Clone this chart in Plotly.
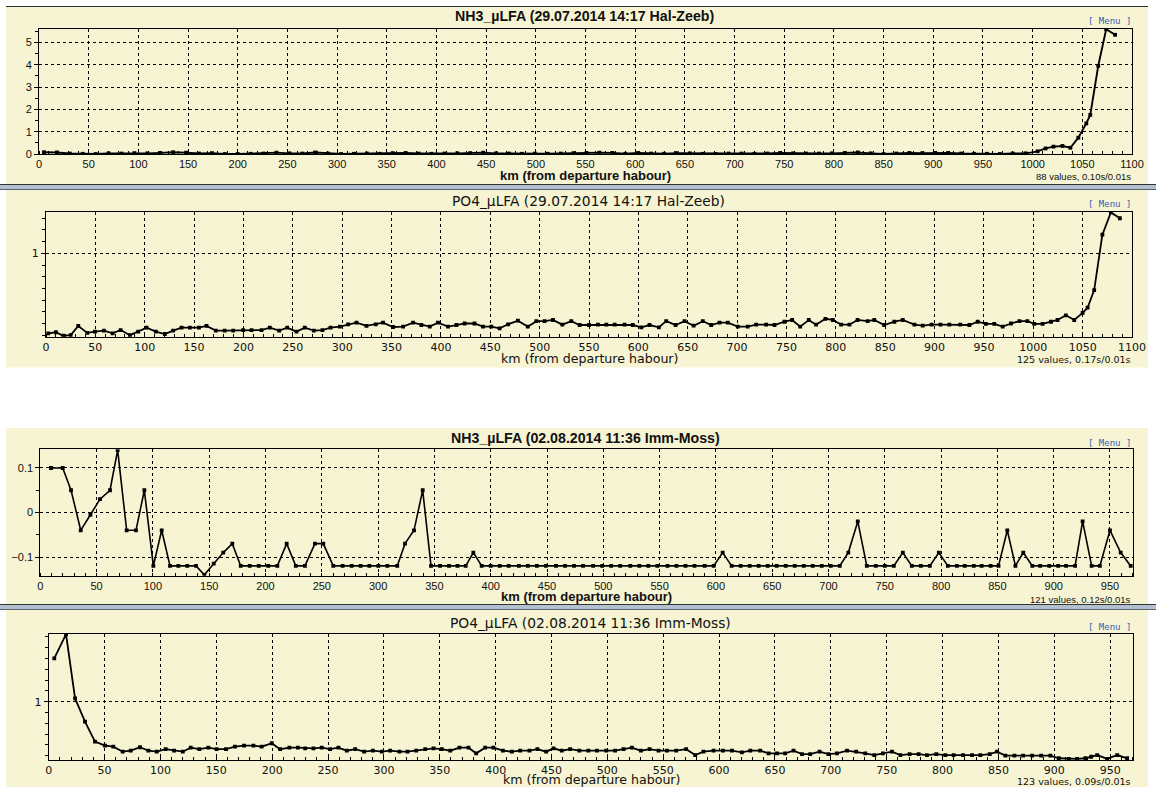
import plotly.graph_objects as go

W, H = 1156, 787

# ---------------- data ----------------
# NH3 µLFA, 29.07.2014 Hal-Zeeb
nh3_hz_km = [5, 18, 31, 44, 57, 70, 83, 96, 109, 122,
             135, 148, 161, 174, 187, 200, 213, 226, 239, 252,
             265, 278, 291, 304, 317, 330, 343, 356, 369, 382,
             395, 408, 421, 434, 447, 460, 473, 486, 499, 512,
             525, 538, 551, 564, 577, 590, 603, 616, 629, 642,
             655, 668, 681, 694, 707, 720, 733, 746, 759, 772,
             785, 798, 811, 824, 837, 850, 863, 876, 889, 902,
             915, 928, 941, 954, 967, 980, 993,
             1005, 1013, 1021, 1030,
             1038, 1046, 1054, 1058, 1066, 1074, 1083]
nh3_hz_val = [0.08, 0.07, 0.02, 0.01, 0.0, 0.03, 0.02, 0.04, 0.03, 0.05,
              0.08, 0.06, 0.02, 0.04, 0.0, 0.0, 0.01, 0.02, 0.06, 0.03,
              0.02, 0.07, 0.02, 0.0, 0.01, 0.02, 0.01, 0.04, 0.05, 0.02,
              0.01, 0.02, 0.03, 0.04, 0.06, 0.03, 0.02, 0.01, 0.02, 0.01,
              0.02, 0.04, 0.05, 0.06, 0.05, 0.01, 0.05, 0.02, 0.01, 0.04,
              0.03, 0.01, 0.0, 0.02, 0.02, 0.01, 0.02, 0.05, 0.03, 0.02,
              0.02, 0.03, 0.05, 0.07, 0.03, 0.0, 0.02, 0.05, 0.04, 0.05,
              0.05, 0.02, 0.01, 0.01, 0.0, 0.02, 0.03,
              0.12, 0.25, 0.33, 0.36,
              0.28, 0.73, 1.37, 1.75, 3.95, 5.59, 5.34]

# PO4 µLFA, 29.07.2014 Hal-Zeeb
po4_hz_km = [2.3, 10, 17.5, 25, 32.7, 41.8, 49.6, 58.7, 67.5, 75.6,
             85, 93.4, 101.9, 111.3, 120.4, 128.8, 137.3, 145.7, 154.9, 162.6,
             172, 181, 189.6, 199.7, 208.2, 218.3, 226.7, 236.2, 244.3, 253.7,
             262.1, 271.3, 280, 288.2, 297.6, 306, 314.5, 324.6, 334, 341.4,
             351.5, 361.7, 371.8, 380.2, 388.7, 397, 407.2, 415.7, 424, 434,
             442.6, 451, 459.5, 468, 478, 488, 496.7, 505, 513.5, 523,
             532, 540.5, 550, 559, 567.5, 576, 586, 594.4, 603, 611.3,
             620.8, 628.2, 637.7, 646.8, 656, 665.3, 673.8, 682.2, 690.6, 700.7,
             710.8, 719.3, 729.4, 737.9, 748, 755.8, 763.9, 772.6, 780, 789.5,
             797, 805.4, 813.8, 822, 832.3, 839, 849, 859.3, 867.8, 879.6,
             888, 897, 906, 915, 926, 935.3, 943.7, 952, 960.5, 969,
             977.4, 986, 994, 1001, 1009.4, 1018, 1024.6, 1033, 1041.5, 1050,
             1055, 1061.7, 1070, 1078.6, 1087.7]
po4_hz_val = [0.316, 0.325, 0.295, 0.30, 0.379, 0.32, 0.33, 0.339, 0.316, 0.344,
              0.30, 0.33, 0.364, 0.33, 0.31, 0.339, 0.364, 0.364, 0.364, 0.379,
              0.339, 0.339, 0.339, 0.344, 0.344, 0.344, 0.364, 0.339, 0.364, 0.33,
              0.364, 0.339, 0.344, 0.364, 0.373, 0.393, 0.407, 0.379, 0.393, 0.407,
              0.37, 0.373, 0.407, 0.387, 0.373, 0.407, 0.373, 0.387, 0.40, 0.40,
              0.373, 0.373, 0.359, 0.393, 0.424, 0.373, 0.42, 0.42, 0.43, 0.39,
              0.42, 0.387, 0.387, 0.39, 0.39, 0.39, 0.39, 0.387, 0.367, 0.387,
              0.367, 0.42, 0.387, 0.42, 0.381, 0.42, 0.387, 0.407, 0.407, 0.373,
              0.373, 0.39, 0.39, 0.387, 0.415, 0.43, 0.373, 0.43, 0.39, 0.44,
              0.43, 0.39, 0.39, 0.43, 0.42, 0.43, 0.387, 0.415, 0.43, 0.39,
              0.381, 0.39, 0.39, 0.39, 0.39, 0.387, 0.415, 0.396, 0.396, 0.373,
              0.40, 0.42, 0.42, 0.396, 0.396, 0.415, 0.43, 0.47, 0.43, 0.49,
              0.535, 0.686, 1.16, 1.35, 1.30]

# NH3 µLFA, 02.08.2014 Imm-Moss
nh3_im_km = [9.5, 19.9, 27.3, 35.9, 44.5, 53, 61.9, 68.7, 76.7, 85,
             92.4, 100.4, 107.8, 115.2, 122.6, 130.5, 138.3, 145.7, 154, 162.5,
             170.5, 178, 186, 194, 202.5, 210.5, 218.8, 226.9, 235, 243.9,
             251.3, 260.2, 268.5, 276.5, 284.5, 292.2, 300.2, 308.2, 317, 323.9,
             331.9, 339.6, 347, 355, 363, 370.5, 377.8, 384.6, 392, 400,
             408, 416, 425, 433, 441, 449, 458, 466, 474, 482,
             491, 499, 507, 515, 524, 532, 540, 548, 557, 565,
             573, 581, 590, 598, 606, 614, 622, 630, 638, 646,
             654, 662, 670, 678, 686, 694, 702, 710, 717.6, 726,
             734, 742, 750, 758, 766, 774, 782, 790, 798, 806,
             814, 821, 829, 836, 844, 851, 858.8, 866, 873, 881,
             888, 896, 904, 911, 919, 925.7, 933.7, 941, 950, 959.5,
             968.4]
nh3_im_val = [0.10, 0.10, 0.05, -0.04, -0.005, 0.03, 0.05, 0.14, -0.04, -0.04,
              0.05, -0.12, -0.04, -0.12, -0.12, -0.12, -0.12, -0.14, -0.115, -0.09,
              -0.07, -0.12, -0.12, -0.12, -0.12, -0.12, -0.07, -0.12, -0.12, -0.07,
              -0.07, -0.12, -0.12, -0.12, -0.12, -0.12, -0.12, -0.12, -0.12, -0.07,
              -0.04, 0.05, -0.12, -0.12, -0.12, -0.12, -0.12, -0.09, -0.12, -0.12,
              -0.12, -0.12, -0.12, -0.12, -0.12, -0.12, -0.12, -0.12, -0.12, -0.12,
              -0.12, -0.12, -0.12, -0.12, -0.12, -0.12, -0.12, -0.12, -0.12, -0.12,
              -0.12, -0.12, -0.12, -0.12, -0.09, -0.12, -0.12, -0.12, -0.12, -0.12,
              -0.12, -0.12, -0.12, -0.12, -0.12, -0.12, -0.12, -0.12, -0.09, -0.02,
              -0.12, -0.12, -0.12, -0.12, -0.09, -0.12, -0.12, -0.12, -0.09, -0.12,
              -0.12, -0.12, -0.12, -0.12, -0.12, -0.12, -0.04, -0.12, -0.09, -0.12,
              -0.12, -0.12, -0.12, -0.12, -0.12, -0.02, -0.12, -0.12, -0.04, -0.09,
              -0.12]

# PO4 µLFA, 02.08.2014 Imm-Moss
po4_im_km = [5.0, 15.5, 23.6, 32.5, 41.4, 50.4, 57.8, 66.2, 73.4, 81.7,
             89.2, 96.7, 104.7, 112.2, 120.0, 127.1, 134.8, 142.9, 150.3, 158.7,
             166.7, 174.8, 183.2, 190.6, 199.6, 207.1, 215.4, 223.0, 229.5, 236.9,
             244.4, 251.9, 259.3, 266.8, 274.3, 282.3, 290.1, 298.2, 305.6, 313.9,
             321.1, 328.9, 337.0, 344.4, 351.8, 359.4, 367.6, 375.7, 382.6, 390.6,
             398.0, 406.5, 414.5, 421.9, 430.3, 437.4, 445.2, 451.8, 459.2, 466.7,
             474.9, 483.0, 490.6, 499.0, 506.9, 514.5, 521.9, 530.0, 537.8, 545.8,
             553.3, 561.6, 570.5, 578.6, 586.0, 595.0, 603.4, 611.5, 620.4, 627.9,
             636.8, 644.3, 651.8, 659.1, 666.6, 674.2, 681.5, 689.9, 697.9, 705.5,
             714.5, 722.7, 730.8, 738.9, 746.6, 754.7, 762.2, 770.5, 778.6, 786.0,
             794.4, 802.5, 809.9, 818.3, 826.4, 833.8, 842.2, 848.8, 856.2, 864.3,
             872.1, 880.1, 888.2, 896.5, 904.0, 913.0, 920.4, 927.9, 933.0, 938.4,
             947.3, 956.3, 965.2]
po4_im_val = [1.40, 1.624, 1.03, 0.815, 0.63, 0.593, 0.583, 0.537, 0.546, 0.578,
              0.546, 0.537, 0.56, 0.546, 0.537, 0.574, 0.56, 0.574, 0.56, 0.56,
              0.583, 0.593, 0.593, 0.583, 0.615, 0.56, 0.574, 0.574, 0.568, 0.568,
              0.574, 0.56, 0.574, 0.546, 0.56, 0.537, 0.546, 0.537, 0.546, 0.537,
              0.537, 0.546, 0.56, 0.568, 0.56, 0.546, 0.574, 0.574, 0.522, 0.574,
              0.574, 0.546, 0.537, 0.546, 0.546, 0.56, 0.537, 0.568, 0.546, 0.56,
              0.546, 0.546, 0.546, 0.546, 0.546, 0.56, 0.574, 0.546, 0.56, 0.546,
              0.546, 0.546, 0.56, 0.506, 0.537, 0.546, 0.546, 0.546, 0.53, 0.546,
              0.546, 0.522, 0.522, 0.522, 0.546, 0.515, 0.515, 0.537, 0.515, 0.522,
              0.546, 0.537, 0.522, 0.506, 0.522, 0.537, 0.506, 0.515, 0.515, 0.506,
              0.515, 0.506, 0.506, 0.506, 0.506, 0.506, 0.515, 0.537, 0.50, 0.50,
              0.50, 0.50, 0.50, 0.50, 0.476, 0.47, 0.47, 0.476, 0.49, 0.506,
              0.47, 0.506, 0.476]

x_ticks_hz = list(range(0, 1101, 50))
x_ticks_im = list(range(0, 951, 50))

# ---------------- styling ----------------
ARIAL = "Liberation Sans, Arial, sans-serif"
DEJAVU = "DejaVu Sans, Verdana, sans-serif"
MONO = "DejaVu Sans Mono, monospace"
PANEL_BG = "#f6f4d2"
INK = "#000000"
AXIS_TITLE = "km (from departure habour)"


def px(x):
    return x / W


def py(y):
    return 1 - y / H


panels = [
    dict(title="NH3_µLFA (29.07.2014 14:17 Hal-Zeeb)", x=nh3_hz_km, y=nh3_hz_val,
         timing="0.10s/0.01s", font=ARIAL, bold=True,
         box=(39, 29, 1132, 154), xr=[0, 1100], yr=[0, 5.6], xticks=x_ticks_hz,
         ydtick=1, yminor=0.5, title_y=16, axtitle_y=175.5, info_y=176,
         menu_y=21, lw=1.9),
    dict(title="PO4_µLFA (29.07.2014 14:17 Hal-Zeeb)", x=po4_hz_km, y=po4_hz_val,
         timing="0.17s/0.01s", font=DEJAVU, bold=False,
         box=(46, 211.7, 1132, 336.7), xr=[0, 1100], yr=[0.287, 1.356], xticks=x_ticks_hz,
         ydtick=1, yminor=0.1, title_y=201, axtitle_y=358.5, info_y=359.5,
         menu_y=204, lw=1.8),
    dict(title="NH3_µLFA (02.08.2014 11:36 Imm-Moss)", x=nh3_im_km, y=nh3_im_val,
         timing="0.12s/0.01s", font=ARIAL, bold=True,
         box=(40.3, 449.3, 1133.3, 575.7), xr=[0, 970.7], yr=[-0.142, 0.142], xticks=x_ticks_im,
         ydtick=0.1, yminor=0.05, title_y=438, axtitle_y=596.5, info_y=599,
         menu_y=443, lw=1.6),
    dict(title="PO4_µLFA (02.08.2014 11:36 Imm-Moss)", x=po4_im_km, y=po4_im_val,
         timing="0.09s/0.01s", font=DEJAVU, bold=False,
         box=(48.7, 634, 1133.3, 760), xr=[0, 970.7], yr=[0.46, 1.626], xticks=x_ticks_im,
         ydtick=1, yminor=0.1, title_y=623, axtitle_y=779.5, info_y=781,
         menu_y=626.7, lw=1.8),
]

fig = go.Figure()
layout = dict(
    width=W, height=H, autosize=False, margin=dict(l=0, r=0, t=0, b=0, pad=0),
    paper_bgcolor="white", plot_bgcolor="white", showlegend=False,
    shapes=[], annotations=[],
)

for i, p in enumerate(panels, start=1):
    xa = "x" if i == 1 else f"x{i}"
    ya = "y" if i == 1 else f"y{i}"
    x0, y0, x1, y1 = p["box"]
    fig.add_trace(go.Scatter(
        x=p["x"], y=p["y"], xaxis=xa, yaxis=ya, mode="lines+markers",
        line=dict(color=INK, width=p["lw"]),
        marker=dict(symbol="square", size=3.8, color=INK),
        hoverinfo="skip",
    ))
    tick_font = dict(family=p["font"], size=11, color="#111")
    layout["xaxis" if i == 1 else f"xaxis{i}"] = dict(
        domain=[px(x0), px(x1)], anchor=ya, range=p["xr"], automargin=False,
        tickmode="array", tickvals=p["xticks"], ticktext=[str(v) for v in p["xticks"]],
        ticks="", tickfont=tick_font,
        showgrid=True, gridcolor=INK, gridwidth=1, griddash="3px,3px",
        showline=True, linecolor=INK, linewidth=1, mirror=True, zeroline=False,
        minor=dict(dtick=10, tick0=0, ticks="inside", ticklen=3, tickcolor=INK, showgrid=False),
        fixedrange=True,
    )
    layout["yaxis" if i == 1 else f"yaxis{i}"] = dict(
        domain=[py(y1), py(y0)], anchor=xa, range=p["yr"], automargin=False,
        tickmode="linear", tick0=0, dtick=p["ydtick"],
        ticks="outside", ticklen=4, tickcolor=INK, tickfont=tick_font,
        showgrid=True, gridcolor=INK, gridwidth=1, griddash="3px,3px",
        showline=True, linecolor=INK, linewidth=1, mirror=True, zeroline=False,
        minor=dict(dtick=p["yminor"], tick0=0, ticks="outside", ticklen=3, tickcolor=INK,
                   showgrid=False),
        fixedrange=True,
    )

    weight = "bold" if p["bold"] else "normal"
    cx = (x0 + x1) / 2
    layout["annotations"] += [
        dict(text=p["title"], x=px(cx - 1), y=py(p["title_y"]), xref="paper", yref="paper",
             showarrow=False, xanchor="center", yanchor="middle", borderpad=0,
             font=dict(family=p["font"], size=14.2 if p["bold"] else 13.8, color="#111",
                       weight=weight)),
        dict(text=AXIS_TITLE, x=px(cx), y=py(p["axtitle_y"]), xref="paper", yref="paper",
             showarrow=False, xanchor="center", yanchor="middle", borderpad=0,
             font=dict(family=p["font"], size=13 if p["bold"] else 12.6, color="#111",
                       weight=weight)),
        dict(text=f"{len(p['x'])} values, {p['timing']}", x=px(1132), y=py(p["info_y"]),
             xref="paper", yref="paper", showarrow=False, xanchor="right", yanchor="middle",
             borderpad=0, font=dict(family=p["font"], size=9.5, color="#111")),
        dict(text="[ Menu ]", x=px(1132), y=py(p["menu_y"]), xref="paper", yref="paper",
             showarrow=False, xanchor="right", yanchor="middle", borderpad=0,
             font=dict(family=MONO, size=9, color="#3a5bb0")),
    ]


def rect(xa, ya, xb, yb, fill):
    return dict(type="rect", xref="paper", yref="paper", layer="below",
                x0=px(xa), x1=px(xb), y0=py(yb), y1=py(ya), fillcolor=fill,
                line=dict(width=0))


def hline(xa, xb, y, color, width=1):
    return dict(type="line", xref="paper", yref="paper", layer="below",
                x0=px(xa), x1=px(xb), y0=py(y), y1=py(y), line=dict(color=color, width=width))


layout["shapes"] += [
    # panel backgrounds
    rect(6, 6, 1148, 184, PANEL_BG),
    rect(6, 190, 1148, 367.5, PANEL_BG),
    rect(6, 428, 1148, 604, PANEL_BG),
    rect(6, 610, 1148, 787, PANEL_BG),
    # window borders / separators
    hline(6, 1148, 6.5, "#2a2a2a"),
    rect(0, 184, 1156, 190, "#b3c0cf"),
    hline(0, 1156, 184.5, "#333333"),
    hline(0, 1156, 189.5, "#5a6270"),
    rect(0, 604, 1156, 610, "#b3c0cf"),
    hline(0, 1156, 604.5, "#333333"),
    hline(0, 1156, 609.5, "#5a6270"),
]

fig.update_layout(**layout)

# keep the page exactly the size of the figure (no body margin, no scrollbars)
page_fit = ("document.documentElement.style.margin='0';"
            "document.documentElement.style.overflow='hidden';"
            "document.body.style.margin='0';"
            "document.body.style.overflow='hidden';")
fig.write_html("out.html", config={"responsive": False}, post_script=page_fit)
